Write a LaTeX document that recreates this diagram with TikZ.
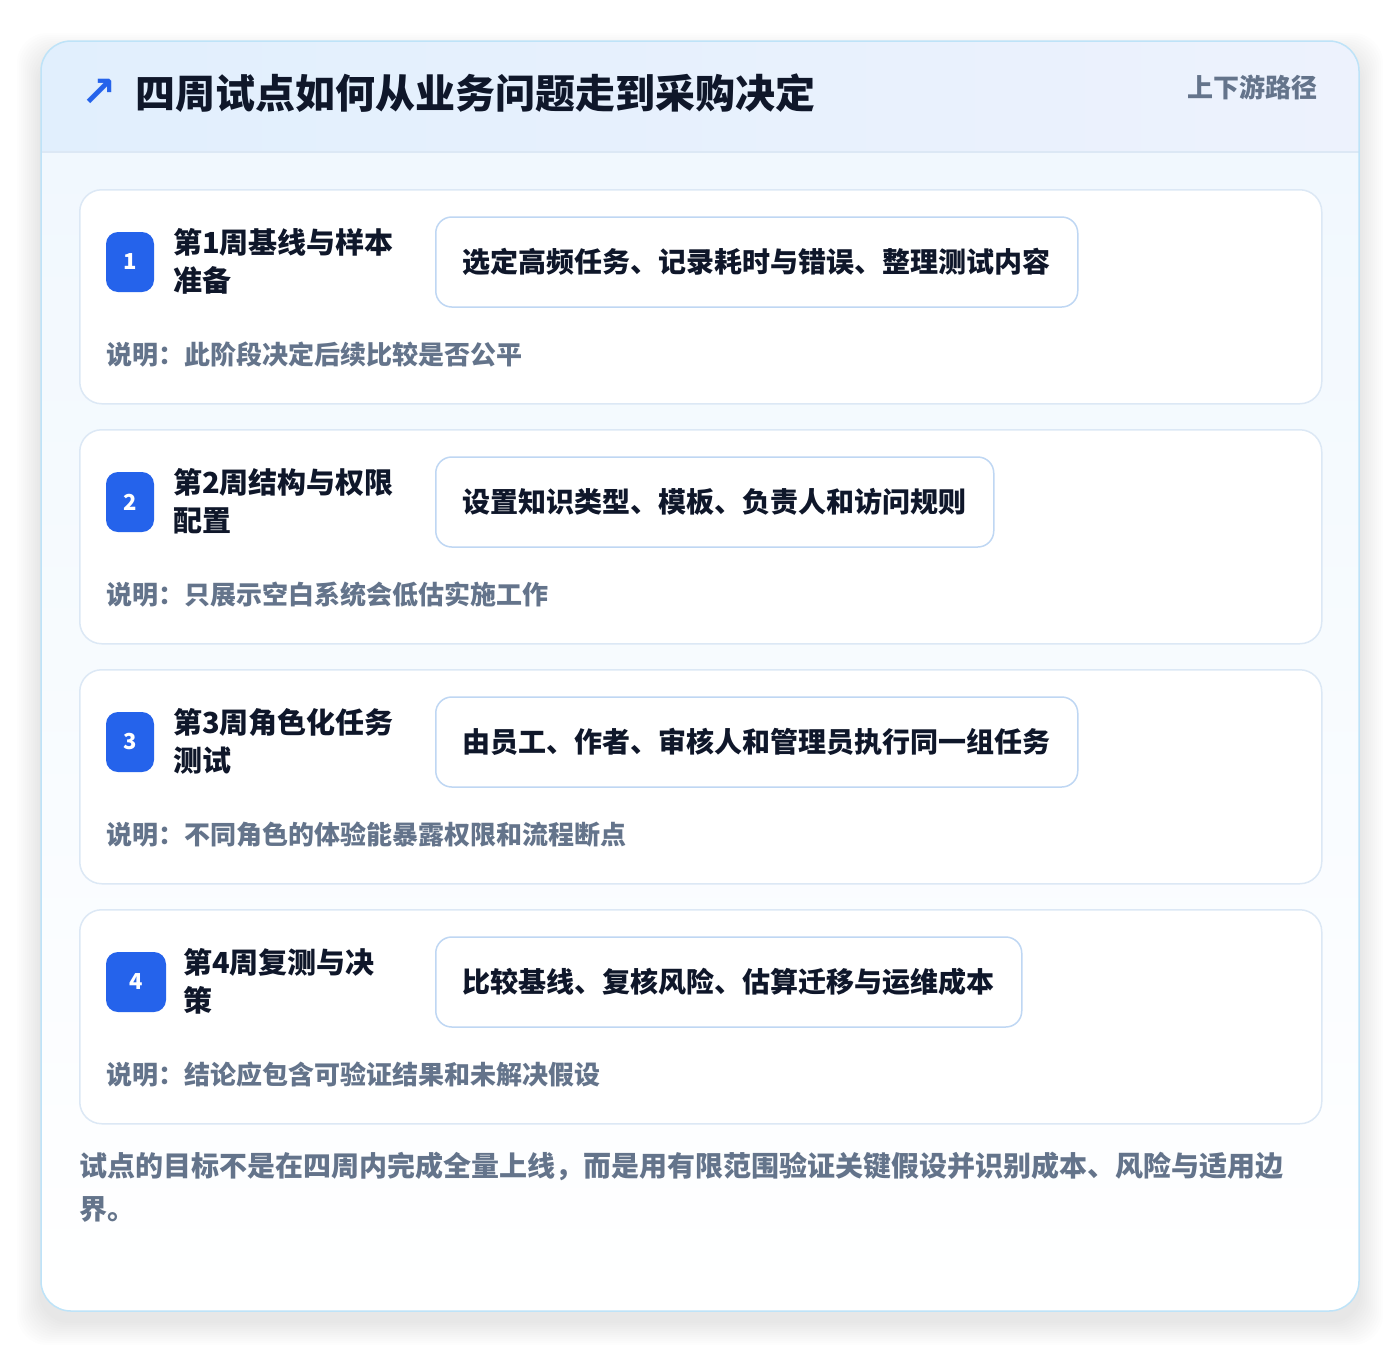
\documentclass[tikz,border=0pt]{standalone}
\usepackage{fontspec}
\setmainfont{Noto Sans CJK SC}
\newfontfamily\symfont{DejaVu Sans}
\usetikzlibrary{positioning,shadows}

\definecolor{badgeblue}{HTML}{2563EB}
\definecolor{ink}{HTML}{0F172A}
\definecolor{muted}{HTML}{64748B}
\definecolor{cardline}{HTML}{DCE8F5}
\definecolor{taskline}{HTML}{BFD7F3}
\definecolor{panelline}{HTML}{BEE3F8}
\definecolor{headleft}{HTML}{E1EFFD}
\definecolor{headright}{HTML}{EDF2FD}
\definecolor{bodytop}{HTML}{F1F8FE}

\begin{document}
\begin{tikzpicture}[
    x=1pt, y=-1pt,
    panel/.style={draw=panelline, line width=1.5pt, rounded corners=30pt},
    stepcard/.style={rectangle, draw=cardline, fill=white, line width=1.5pt, rounded corners=22pt, minimum width=1242pt, minimum height=214pt, anchor=north west},
    badge/.style={rectangle, fill=badgeblue, rounded corners=12pt, minimum width=48pt, minimum height=60pt, inner sep=0pt, text=white, font=\bfseries\fontsize{22}{22}\selectfont},
    steptitle/.style={anchor=west, align=left, inner sep=0pt, text=ink, font=\bfseries\fontsize{29}{38}\selectfont},
    taskbox/.style={rectangle, draw=taskline, fill=white, line width=1.5pt, rounded corners=16pt, minimum height=90pt, inner xsep=27pt, anchor=west, text=ink, font=\bfseries\fontsize{28}{28}\selectfont},
    note/.style={anchor=west, inner sep=0pt, text=muted, font=\bfseries\fontsize{26}{26}\selectfont}
]
\useasboundingbox (0,0) rectangle (1400,1352);
\fill[white] (0,0) rectangle (1400,1352);

% soft shadow under the panel
\foreach \s in {2,4,...,24}
  \fill[black, opacity=0.006, rounded corners=30pt] (41-\s,41-\s+16) rectangle (1359+\s,1311+\s+10);

% panel background: header band and body
\begin{scope}
  \clip[rounded corners=30pt] (41,41) rectangle (1359,1311);
  \shade[top color=bodytop, bottom color=white] (41,152) rectangle (1359,1311);
  \shade[left color=headleft, right color=headright] (41,41) rectangle (1359,152);
  \draw[cardline, line width=1.2pt] (41,152) -- (1359,152);
\end{scope}
\draw[panel] (41,41) rectangle (1359,1311);

% header
\node[anchor=center, inner sep=0pt, text=badgeblue, font=\symfont\bfseries\fontsize{42}{42}\selectfont] (arrow) at (99,93) {↗};
\node[anchor=west, inner sep=0pt, text=ink, font=\bfseries\fontsize{40}{40}\selectfont] (title) at (135,93) {四周试点如何从业务问题走到采购决定};
\node[anchor=east, inner sep=0pt, text=muted, font=\bfseries\fontsize{26}{26}\selectfont] (tag) at (1318,87) {上下游路径};

% task box shadows
\foreach \yy/\ww in {262/642, 502/558, 742/642, 982/586}
  \foreach \s in {2,4,...,12}
    \fill[black, opacity=0.006, rounded corners=16pt] (435-\s,\yy-45-\s+8) rectangle (435+\ww+\s,\yy+45+\s+8);

% step 1
\node[stepcard] (card1) at (79,189) {};
\node[badge] (badge1) at (130,262) {1};
\node[steptitle] (title1) at (173,261) {第1周基线与样本\\准备};
\node[taskbox] (task1) at (435,262) {选定高频任务、记录耗时与错误、整理测试内容};
\node[note] (note1) at (106,355) {说明：此阶段决定后续比较是否公平};

% step 2
\node[stepcard] (card2) at (79,429) {};
\node[badge] (badge2) at (130,502) {2};
\node[steptitle] (title2) at (173,501) {第2周结构与权限\\配置};
\node[taskbox] (task2) at (435,502) {设置知识类型、模板、负责人和访问规则};
\node[note] (note2) at (106,595) {说明：只展示空白系统会低估实施工作};

% step 3
\node[stepcard] (card3) at (79,669) {};
\node[badge] (badge3) at (130,742) {3};
\node[steptitle] (title3) at (173,741) {第3周角色化任务\\测试};
\node[taskbox] (task3) at (435,742) {由员工、作者、审核人和管理员执行同一组任务};
\node[note] (note3) at (106,835) {说明：不同角色的体验能暴露权限和流程断点};

% step 4
\node[stepcard] (card4) at (79,909) {};
\node[badge, minimum width=60pt] (badge4) at (136,982) {4};
\node[steptitle] (title4) at (183,981) {第4周复测与决\\策};
\node[taskbox] (task4) at (435,982) {比较基线、复核风险、估算迁移与运维成本};
\node[note] (note4) at (106,1075) {说明：结论应包含可验证结果和未解决假设};

% closing remark
\node[anchor=north west, align=left, inner sep=0pt, text=muted, font=\bfseries\fontsize{28}{43}\selectfont] (summary) at (79,1152) {试点的目标不是在四周内完成全量上线，而是用有限范围验证关键假设并识别成本、风险与适用边\\界。};

\end{tikzpicture}
\end{document}
